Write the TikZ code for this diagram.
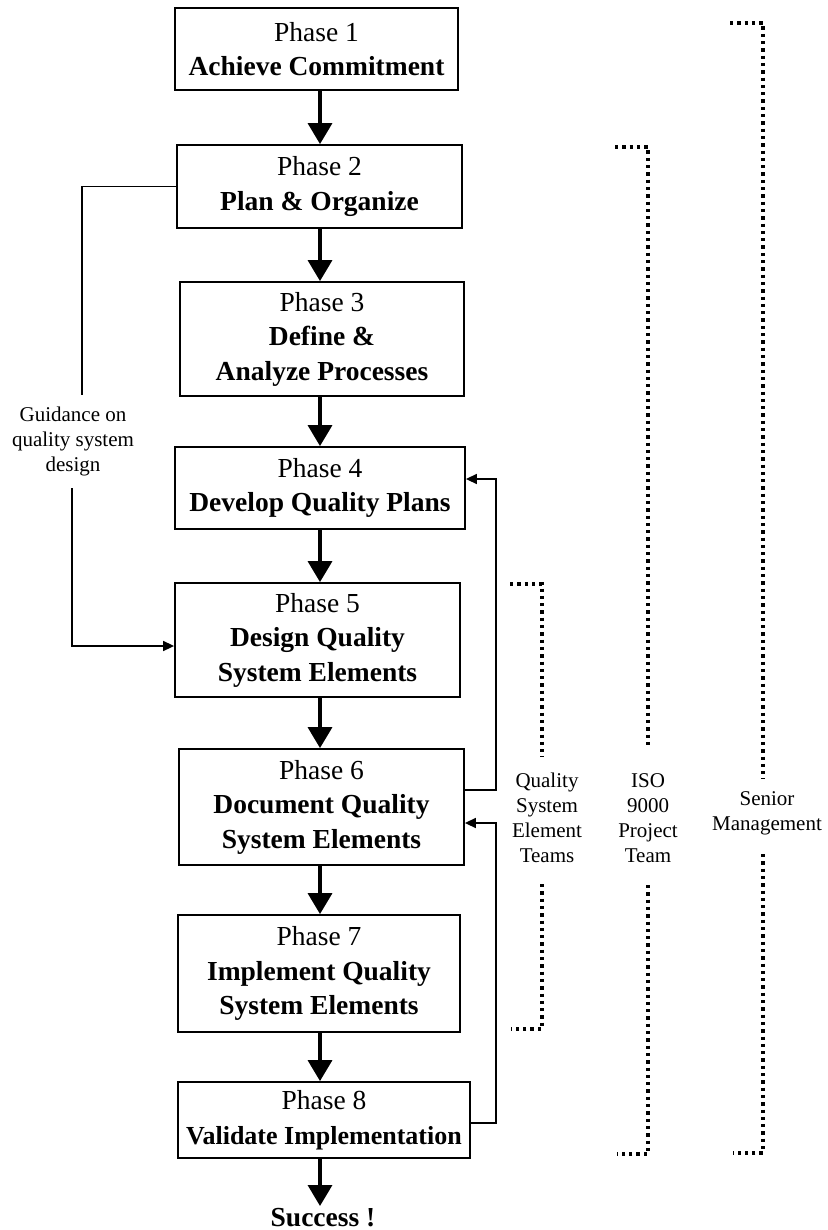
\documentclass[tikz,border=0pt]{standalone}
\usepackage{fontspec}
\setmainfont{Liberation Serif}
\usetikzlibrary{arrows.meta}
\begin{document}
\begin{tikzpicture}[x=1pt,y=-1pt,
  phase/.style={draw, line width=1.8pt, inner sep=0pt, align=center, font=\fontsize{27.5}{34.5}\selectfont},
  flow/.style={line width=3.5pt, -{Triangle[length=21pt,width=24pt]}},
  fbline/.style={line width=1.8pt},
  fbarrow/.style={line width=1.5pt, -{Triangle[length=11pt,width=10pt]}},
  bracket/.style={line width=3.5pt, dash pattern=on 3.3pt off 4pt},
  side/.style={align=center, inner sep=0pt, font=\fontsize{21}{25}\selectfont}
]
\useasboundingbox (0,0) rectangle (827,1230);

% phase boxes
\node[phase, minimum width=283pt, minimum height=82pt]  (p1) at (316.5,49)   {Phase 1\\\textbf{Achieve Commitment}};
\node[phase, minimum width=285pt, minimum height=83pt]  (p2) at (319.5,186.5) {Phase 2\\\textbf{Plan \& Organize}};
\node[phase, minimum width=284pt, minimum height=114pt] (p3) at (322,339)    {Phase 3\\\textbf{Define \&}\\\textbf{Analyze Processes}};
\node[phase, minimum width=290pt, minimum height=82pt]  (p4) at (320,488)    {Phase 4\\\textbf{Develop Quality Plans}};
\node[phase, minimum width=285pt, minimum height=114pt] (p5) at (317.5,640)  {Phase 5\\\textbf{Design Quality}\\\textbf{System Elements}};
\node[phase, minimum width=285pt, minimum height=116pt] (p6) at (321.5,807)  {Phase 6\\\textbf{Document Quality}\\\textbf{System Elements}};
\node[phase, minimum width=282pt, minimum height=117pt] (p7) at (319,973.5)  {Phase 7\\\textbf{Implement Quality}\\\textbf{System Elements}};
\node[phase, minimum width=292pt, minimum height=76pt]  (p8) at (324,1120)   {Phase 8\\{\fontsize{26}{34.5}\selectfont\bfseries Validate Implementation}};
\node[anchor=north, inner sep=0pt, font=\fontsize{27.5}{34.5}\selectfont\bfseries] (succ) at (323,1208) {Success !};

% main flow
\coordinate (ax) at (320,0);
\draw[flow] (p1.south -| ax) -- (p2.north -| ax);
\draw[flow] (p2.south -| ax) -- (p3.north -| ax);
\draw[flow] (p3.south -| ax) -- (p4.north -| ax);
\draw[flow] (p4.south -| ax) -- (p5.north -| ax);
\draw[flow] (p5.south -| ax) -- (p6.north -| ax);
\draw[flow] (p6.south -| ax) -- (p7.north -| ax);
\draw[flow] (p7.south -| ax) -- (p8.north -| ax);
\draw[flow] (p8.south -| ax) -- ([yshift=2pt]succ.north -| ax);

% guidance
\node[side] (guid) at (73,441) {Guidance on\\quality system\\design};
\coordinate (g1) at (82,395);
\coordinate (g2) at (72,488);
\coordinate (g3) at (72,646);
\draw[fbline] (p2.west) -| (g1);
\draw[fbarrow] (g2) -- (g3) -- (p5.west |- g3);

% feedback loops
\coordinate (r1) at (496,790);
\coordinate (r2) at (496,479);
\coordinate (r3) at (496,1123);
\coordinate (r4) at (496,823);
\draw[fbarrow] (p6.east |- r1) -- (r1) -- (r2) -- (p4.east |- r2);
\draw[fbarrow] (p8.east |- r3) -- (r3) -- (r4) -- (p6.east |- r4);

% side labels
\node[side] (qse) at (547,818) {Quality\\System\\Element\\Teams};
\node[side] (iso) at (648,818) {ISO\\9000\\Project\\Team};
\node[side] (sen) at (767,813) {Senior\\Management};

% dotted brackets
\draw[bracket] (510,584) -- (542,584) -- (542,757);
\draw[bracket] (542,884) -- (542,1029) -- (511,1029);
\draw[bracket] (615,147) -- (648,147) -- (648,748);
\draw[bracket] (648,885) -- (648,1154) -- (617,1154);
\draw[bracket] (730,23) -- (763,23) -- (763,779);
\draw[bracket] (763,854) -- (763,1153) -- (733,1153);
\end{tikzpicture}
\end{document}
